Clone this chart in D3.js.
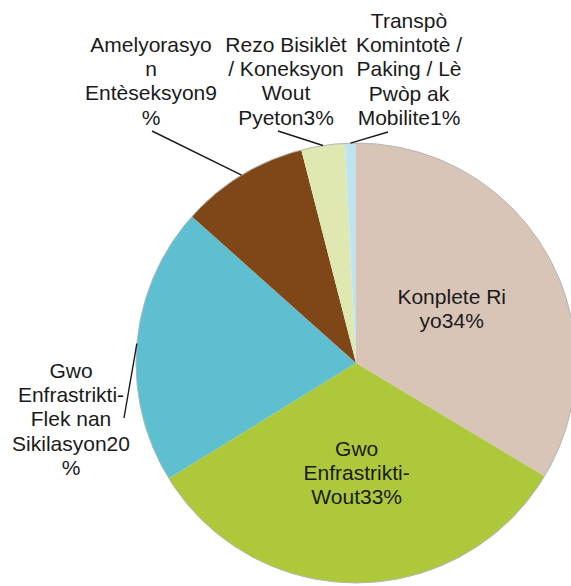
<!DOCTYPE html>
<html lang="en">
<head>
  <meta charset="UTF-8" />
  <title>Pie</title>
  <style>
    body {
      margin: 0;
      background: #fff;
    }
    svg {
      display: block;
      overflow: hidden;
    }
    .lbl {
      font-family: "Liberation Sans", Arial, sans-serif;
      font-size: 21px;
      fill: #1a1a1a;
    }
  </style>
</head>
<body>
  <div id="chart"></div>

  <script src="https://d3js.org/d3.v7.min.js"></script>
  <script>
    // categories + values (percent shares)
    const categories = [
      "Konplete Ri yo",
      "Gwo Enfrastrikti-Wout",
      "Gwo Enfrastrikti-Flek nan Sikilasyon",
      "Amelyorasyon Entèseksyon",
      "Rezo Bisiklèt / Koneksyon Wout Pyeton",
      "Transpò Komintotè / Paking / Lè Pwòp ak Mobilite"
    ];
    const values = [33.6, 32.6, 20.4, 9.4, 3.2, 0.8];
    const colors = ["#d9c5b8", "#adc93b", "#5dbfcf", "#7f4717", "#dfe8b0", "#bfe4ee"];

    // label text, wrapped the way the original shows it
    const labelLines = [
      ["Konplete Ri", "yo34%"],
      ["Gwo", "Enfrastrikti-", "Wout33%"],
      ["Gwo", "Enfrastrikti-", "Flek nan", "Sikilasyon20", "%"],
      ["Amelyorasyo", "n", "Entèseksyon9", "%"],
      ["Rezo Bisiklèt", "/ Koneksyon", "Wout", "Pyeton3%"],
      ["Transpò", "Komintotè /", "Paking / Lè", "Pwòp ak", "Mobilite1%"]
    ];

    const W = 571, H = 586;
    const cx = 356, cy = 363, R = 220;
    const lineH = 24.2;

    // outside label placement: [center x, first baseline, leader end x, leader end y]; null = inside
    const outside = [
      null,
      null,
      [71, 378, 124, 418],
      [151, 52, 152, 131],
      [286, 52, 278, 131],
      [409, 28, 388, 132]
    ];

    const svg = d3.select("#chart")
      .append("svg")
        .attr("width", W)
        .attr("height", H);

    const g = svg.append("g")
      .attr("transform", `translate(${cx},${cy})`);

    const pie = d3.pie().sort(null).value(d => d)(values);
    const arc = d3.arc().innerRadius(0).outerRadius(R);

    g.selectAll("path.slice")
      .data(pie)
      .enter()
      .append("path")
        .attr("class", "slice")
        .attr("d", arc)
        .attr("fill", (d, i) => colors[i]);

    g.append("circle")
      .attr("r", R)
      .attr("fill", "none")
      .attr("stroke", "#b5b5b5")
      .attr("stroke-width", 1);

    // leader lines
    pie.forEach((d, i) => {
      if (!outside[i]) return;
      const mid = (d.startAngle + d.endAngle) / 2;
      const p = [Math.sin(mid) * R, -Math.cos(mid) * R];
      g.append("line")
        .attr("x1", p[0])
        .attr("y1", p[1])
        .attr("x2", outside[i][2] - cx)
        .attr("y2", outside[i][3] - cy)
        .attr("stroke", "#1a1a1a")
        .attr("stroke-width", 1.4);
    });

    // labels
    pie.forEach((d, i) => {
      const lines = labelLines[i];
      let x, y0;
      if (outside[i]) {
        x = outside[i][0];
        y0 = outside[i][1];
      } else {
        const c = arc.centroid(d);
        x = cx + c[0];
        y0 = cy + c[1] - (lines.length - 1) * lineH / 2 + 7;
      }
      const t = svg.append("text")
        .attr("class", "lbl")
        .attr("text-anchor", "middle");
      lines.forEach((s, k) => {
        t.append("tspan")
          .attr("x", x)
          .attr("y", y0 + k * lineH)
          .text(s);
      });
    });
  </script>
</body>
</html>
